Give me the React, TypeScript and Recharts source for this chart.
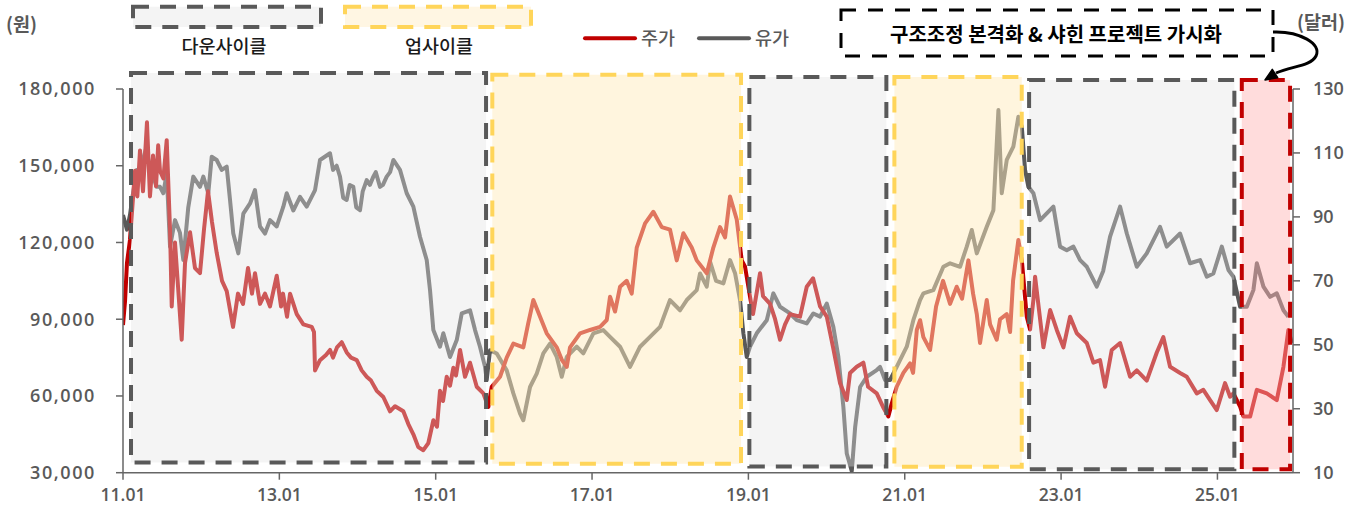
import React from 'react';
import { LineChart, Line, XAxis, YAxis, ReferenceArea } from 'recharts';

// x = months since 2011.01
const stockMonths = [0,0.31,0.61,1.07,1.84,2.2,2.61,3.07,3.68,4.14,4.61,5.07,5.4,5.68,6.2,6.71,7.22,7.48,7.98,8.44,9.01,9.52,10.29,11.05,11.82,12.43,13.05,13.66,14.38,15.2,15.92,16.89,17.65,18.42,19.19,19.8,20.26,21.03,21.8,22.57,23.6,24.26,24.56,25.18,25.64,26.67,27.68,28.97,29.32,29.48,30.24,31.16,31.78,32.24,32.85,33.57,34.34,35,35.88,36.64,37.41,38.07,38.95,39.96,40.99,41.76,43.03,43.8,44.57,45.33,46.1,46.87,47.64,48.2,48.66,49.13,49.69,50.2,50.71,51.12,51.74,52.5,53.27,54.3,55.31,56.08,56.6,57.88,58.9,59.92,61.45,62.17,62.99,64.02,65.04,66.58,67.39,68.12,68.62,70.16,71.69,73.23,74.26,74.76,75.53,76.3,77.32,78.09,78.86,80.14,81.41,82.7,83.97,85,86.02,87.3,88.07,89.61,90.62,91.65,92.42,93.18,94.21,94.98,95.49,96.25,96.71,97.79,98.25,99.33,100.1,100.86,101.63,102.39,103.93,104.96,105.93,107,108.03,109,110.07,111.1,111.6,112.63,113.65,114.37,115.7,116.67,117.48,118,118.77,119.79,120.82,121.28,121.85,122.36,122.86,123.89,124.81,125.88,126.96,127.98,128.8,129.77,130.49,131.06,131.56,132.59,133.1,134.12,134.63,135.66,136.17,136.63,137.44,138.01,138.73,139.24,139.75,140.01,140.78,141.29,142.32,143.34,144.36,145.38,146.41,147.95,148.96,149.98,150.75,151.78,153.06,154.59,155.62,157.15,158.69,159.7,160.73,162.27,163.29,164.83,165.84,166.87,167.9,169.17,169.94,170.45,171.48,171.99,173.02,174.05,175.58,177.11,178.13,178.89,179.41];
const stockValues = [87700,97000,112000,121000,148000,138000,156000,140000,167000,138000,154000,142000,158000,148000,145000,160000,125000,95000,120000,103000,82000,112000,124000,110000,108000,125000,140000,128000,116000,105000,101000,87000,100000,96000,110000,100000,108000,96000,100000,95000,107000,95000,100000,91000,100000,92000,88000,87000,85000,70000,74000,76000,78000,75000,79000,81000,77000,75000,74000,70000,67500,66000,62000,59600,54000,56000,54000,49000,45000,40000,38800,41600,50500,48000,62000,58000,67500,64000,71000,68000,78000,67500,73000,63600,61000,55700,63600,67500,75000,80500,79000,88000,97500,91000,84500,79000,74000,71400,79000,84500,85800,87000,89700,98800,93000,102700,105000,100000,118000,127500,132000,126000,125000,113000,123600,118000,113000,108000,118000,126000,122000,138000,129000,113000,110500,98800,92000,108000,99000,96000,90000,82000,88000,92000,91000,102700,106000,95000,91000,79000,65000,58400,69000,71400,73000,63600,61000,55700,52000,57000,63600,69000,72700,69000,85800,89600,83000,78000,95000,105000,96000,102700,98000,113000,100000,92000,80700,97500,88000,82000,90000,92000,85000,105000,121000,112000,91000,86000,97500,106600,90000,79000,93600,85800,79000,91000,84500,80700,73000,74000,63600,78000,80700,67500,70000,66000,77000,83000,71400,69000,67500,61000,62400,58400,54500,65000,59700,61000,55800,52000,52000,62400,61000,58400,71400,85800,80700];

const oilMonths = [0,0.61,1.07,1.54,2.1,2.61,3.64,3.84,4.65,5.17,5.68,6.19,6.71,7.22,7.98,8.75,9.26,10.02,10.79,11.82,12.33,13.09,13.62,14.38,15.15,15.92,16.43,16.93,17.7,18.47,19.5,20.26,21.03,21.8,22.57,23.6,24.61,25.13,26.14,27.17,28.2,29.48,30.24,31.78,32.24,32.8,33.31,33.8,34.34,34.8,35.35,35.8,36.38,36.8,37.41,37.9,38.43,38.8,39.45,39.9,40.48,41,41.5,42.52,43.55,44.57,45.59,46.62,47.13,47.64,48.66,49.17,50.2,51.23,52,53.27,54.04,54.8,55.57,55.83,56.34,57.37,58.9,59.92,60.95,61.45,62.48,63.51,64.52,65.55,66.58,67.35,68.12,69.65,70.66,72.2,73.73,74.76,76.3,77.83,79.37,80.9,82.44,83.97,85.51,86.54,88.07,88.58,89.61,90.12,91.04,92.16,93.18,93.95,94.72,95.23,95.75,96.25,97.28,98.82,99.83,100.86,102.39,103.42,104.96,105.97,107,108.03,109.04,109.81,110.58,111.1,111.87,112.39,113.15,114.17,115.7,116.21,116.98,117.75,118.77,119.28,120.31,121.32,122.35,122.86,124.39,125.93,126.96,128.49,129.52,130.29,131.06,132.59,133.61,134.38,134.89,135.66,136.67,137.44,137.97,138.47,138.98,139.75,140.78,141.8,142.82,143.84,144.87,145.89,146.92,147.95,149.48,150.45,151.52,153.06,154.09,155.62,157.15,159.19,160.22,162.27,163.8,165.34,166.37,167.38,168.67,169.69,170.45,171.48,172.51,173.52,174.05,175.06,176.09,177.11,178.13,178.89];
const oilValues = [90.6,86,90.6,97.4,104.7,104.7,112,108,102.6,99.4,99.4,97.4,103.7,80.7,89,85,76.5,93,102.6,99.4,102.6,97.4,108.8,107.8,104.7,105.7,95.3,84.8,78.6,91,94.2,98.4,87,84.8,89,87,93.2,97.4,92,96.3,93.2,98.4,107.8,109.9,104.7,106,102.6,96,95.3,100,99.4,93,92.1,98,101.5,100,102.6,104,99.4,100,102.6,104,107.8,104.7,97.4,93.2,83.8,76.5,67.1,54.6,49.4,53.6,46.2,51.5,59.8,60.8,54.6,49.4,43.1,39,48.3,47.3,42,34.8,28.5,26.4,36.8,41,47.3,50.4,46.2,40,46.2,49.4,47.3,53.6,54.6,52.5,49.4,43.1,49.4,52.5,55.6,64,60.8,64,67.1,72.3,68.2,76,70,69.2,76.5,72.4,64,53.6,46.2,49.4,53.6,57.7,66.1,61.9,59.8,57.7,56.7,59.8,58.8,62.9,55.6,46.2,30.6,16,10.5,24.3,36.8,40,42.1,43.1,39,39,43.1,45.2,49.4,57.7,64,66.1,67.1,74.4,75.5,74.4,80.7,85.9,78.6,86.9,92.1,123.4,97.4,107.8,112,121.3,118.2,104.7,99.4,97.4,89,91.1,93.2,80.7,79.6,80.7,76.5,74.4,68.2,73,83.8,93.2,84.8,74.4,78.6,86.9,80.7,84.8,75.5,76.5,71.3,72.3,80.7,73.4,71.3,61.9,61.9,67.1,75.5,68.2,65,66.1,60.8,58.8];

const xTicks = [0, 24, 48, 72, 96, 120, 144, 168];
const xTickLabels = ['11.01', '13.01', '15.01', '17.01', '19.01', '21.01', '23.01', '25.01'];
const leftTicks = [30000, 60000, 90000, 120000, 150000, 180000];
const rightTicks = [10, 30, 50, 70, 90, 110, 130];

// cycle periods (months since 2011.01) and vertical span in won
const cycleKinds = ['down', 'up', 'down', 'up', 'down', 'restructure'];
const cycleStart = [1.23, 56.69, 96.15, 118.41, 139.09, 171.74];
const cycleEnd = [55.73, 94.87, 117.18, 137.96, 170.6, 179.15];
const cycleTop = [186260, 185590, 184690, 184690, 183520, 183520];
const cycleBottom = [34000, 33450, 32440, 32280, 31380, 31380];

const stockData = stockMonths.map((m, i) => ({ m, stock: stockValues[i] }));
const oilData = oilMonths.map((m, i) => ({ m, oil: oilValues[i] }));

const boxStyle: Record<string, any> = {
  down: { fill: '#E3E3E3', fillOpacity: 0.39, stroke: '#595959' },
  up: { fill: '#FFECBE', fillOpacity: 0.5, stroke: '#FFD55A' },
  restructure: { fill: '#FFB4B4', fillOpacity: 0.47, stroke: '#C00000' },
};

const NUM_FONT = '"Open Sans", "Noto Sans", sans-serif';
const KR_FONT = '"Noto Sans CJK KR", sans-serif';
const tickStyle = { fill: '#595959', fontSize: 18, fontFamily: NUM_FONT, fontWeight: 600 };

export default function App() {
  return (
    <div style={{ position: 'absolute', left: 0, top: 0, width: 1365, height: 510, background: '#fff' }}>
      <LineChart width={1365} height={510} margin={{ top: 89, right: 0, bottom: 0, left: 0 }}>
        <XAxis
          dataKey="m"
          type="number"
          domain={[0, 179.6]}
          ticks={xTicks}
          allowDataOverflow
          height={37.3}
          tickSize={7}
          tickMargin={9}
          axisLine={{ stroke: '#666', strokeWidth: 1.5 }}
          tickLine={{ stroke: '#666', strokeWidth: 1.5 }}
          tick={{ ...tickStyle, fontSize: 17.5 }}
          tickFormatter={(v: number) => xTickLabels[xTicks.indexOf(v)] ?? ''}
        />
        <YAxis
          yAxisId="left"
          orientation="left"
          width={123}
          domain={[30000, 180000]}
          ticks={leftTicks}
          allowDataOverflow
          tickSize={7}
          tickMargin={20}
          axisLine={{ stroke: '#666', strokeWidth: 1.5 }}
          tickLine={{ stroke: '#666', strokeWidth: 1.5 }}
          tick={{ ...tickStyle, letterSpacing: 1.6 }}
          tickFormatter={(v: number) => v.toLocaleString('en-US')}
        />
        <YAxis
          yAxisId="right"
          orientation="right"
          width={72}
          domain={[10, 130]}
          ticks={rightTicks}
          allowDataOverflow
          tickSize={7}
          tickMargin={13}
          axisLine={{ stroke: '#666', strokeWidth: 1.5 }}
          tickLine={{ stroke: '#666', strokeWidth: 1.5 }}
          tick={tickStyle}
        />
        <Line
          data={oilData}
          dataKey="oil"
          yAxisId="right"
          stroke="#595959"
          strokeWidth={4}
          strokeLinejoin="round"
          dot={false}
          activeDot={false}
          isAnimationActive={false}
        />
        <Line
          data={stockData}
          dataKey="stock"
          yAxisId="left"
          stroke="#C00000"
          strokeWidth={4}
          strokeLinejoin="round"
          dot={false}
          activeDot={false}
          isAnimationActive={false}
        />
        {cycleKinds.map((k, i) => (
          <ReferenceArea
            key={i}
            yAxisId="left"
            x1={cycleStart[i]}
            x2={cycleEnd[i]}
            y1={cycleBottom[i]}
            y2={cycleTop[i]}
            ifOverflow="visible"
            fill={boxStyle[k].fill}
            fillOpacity={boxStyle[k].fillOpacity}
            stroke={boxStyle[k].stroke}
            strokeWidth={4}
            strokeDasharray="16 11"
            zIndex={450}
          />
        ))}
      </LineChart>
      <svg
        width={1365}
        height={510}
        style={{ position: 'absolute', left: 0, top: 0, pointerEvents: 'none' }}
      >
        <text x={6} y={31} fontFamily={KR_FONT} fontSize={18.5} fontWeight={700} fill="#595959">(원)</text>
        <text x={1297} y={29} fontFamily={KR_FONT} fontSize={18.5} fontWeight={700} fill="#595959">(달러)</text>

        <rect x={133} y={6.7} width={188} height={20.3} fill="#F4F4F4" stroke="#595959" strokeWidth={4} strokeDasharray="16 11" />
        <text x={224} y={53} textAnchor="middle" fontFamily={KR_FONT} fontSize={18.5} fontWeight={500} fill="#1a1a1a">다운사이클</text>
        <rect x={345} y={6.7} width={186} height={20.3} fill="#FFF6E3" stroke="#FFD55A" strokeWidth={4} strokeDasharray="16 11" />
        <text x={439} y={53} textAnchor="middle" fontFamily={KR_FONT} fontSize={18.5} fontWeight={500} fill="#1a1a1a">업사이클</text>

        <line x1={585} y1={38.3} x2={635} y2={38.3} stroke="#C00000" strokeWidth={4} strokeLinecap="round" />
        <text x={641} y={44.5} fontFamily={KR_FONT} fontSize={18.5} fontWeight={500} fill="#595959">주가</text>
        <line x1={699} y1={38.3} x2={749} y2={38.3} stroke="#595959" strokeWidth={4} strokeLinecap="round" />
        <text x={755} y={44.5} fontFamily={KR_FONT} fontSize={18.5} fontWeight={500} fill="#595959">유가</text>

        <rect x={841} y={10} width={432} height={46} fill="none" stroke="#000" strokeWidth={3} strokeDasharray="15 12" />
        <text x={1056} y={42} textAnchor="middle" fontFamily={KR_FONT} fontSize={20} fontWeight={700} fill="#000">구조조정 본격화 &amp; 샤힌 프로젝트 가시화</text>

        <path d="M1273,32 C1300,31 1322,44 1316,56 C1311,66 1292,66 1276,73" fill="none" stroke="#000" strokeWidth={3} />
        <polygon points="1265,80 1277.7,77.7 1272.3,69.3" fill="#000" stroke="#000" strokeWidth={1.5} strokeLinejoin="round" />
      </svg>
    </div>
  );
}
